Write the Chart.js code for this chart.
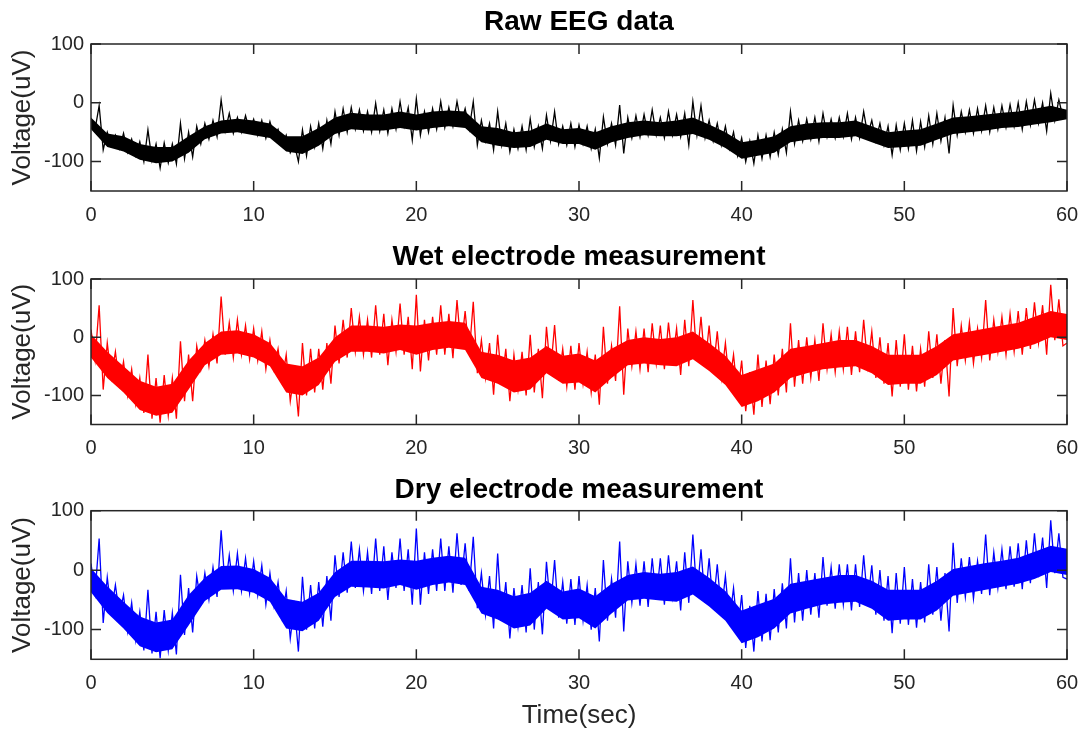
<!DOCTYPE html>
<html>
<head>
<meta charset="utf-8">
<title>EEG measurements</title>
<script src="https://cdn.jsdelivr.net/npm/chart.js@4/dist/chart.umd.min.js"></script>
<style>
  body { margin: 0; background: #fff; overflow: hidden; }
  #wrap { position: relative; width: 1083px; height: 731px; font-family: "Liberation Sans", Arial, sans-serif; }
  canvas { position: absolute; left: 0; }
  .ttl { position: absolute; left: 91px; width: 976px; text-align: center; font-weight: bold;
         font-size: 28px; line-height: 34px; color: #000; }
</style>
</head>
<body>
<div id="wrap">
  <canvas id="rawChart" width="1083" height="232" style="top:0px"></canvas>
  <canvas id="wetChart" width="1083" height="232" style="top:235px"></canvas>
  <canvas id="dryChart" width="1083" height="264" style="top:467px"></canvas>
  <div class="ttl" style="top:4px">Raw EEG data</div>
  <div class="ttl" style="top:239px">Wet electrode measurement</div>
  <div class="ttl" style="top:472px">Dry electrode measurement</div>
</div>
<script>
// ---- Data (uV) ----
// traces: one value every 0.25 s (peaks / troughs of the noisy trace)
const sampleStep = 0.25;
// dense body of each trace: upper / lower edge, one value per second
const coreStep = 1;
const xTicks = [0, 10, 20, 30, 40, 50, 60];
const yTicks = [-100, 0, 100];

const rawEEG = [
  -27, -45, -5, -80, -50, -72, -55, -78, -52, -84, -62, -90, -66, -100, -46, -98, -70, -111, -68, -102,
  -70, -104, -35, -95, -50, -92, -40, -70, -35, -62, -30, -58, 5, -48, -18, -52, -25, -50, -22, -48,
  -28, -55, -30, -60, -32, -58, -45, -72, -55, -85, -70, -100, -46, -90, -40, -75, -35, -78, -30, -70,
  -15, -55, -10, -50, -8, -45, -12, -48, -15, -50, -1, -48, -12, -52, -10, -45, 2, -40, -8, -63,
  7, -55, -15, -50, -10, -45, 2, -42, -8, -40, 2, -35, -10, -45, 2, -72, -30, -65, -35, -80,
  -15, -72, -35, -83, -45, -78, -40, -80, -27, -75, -40, -78, -21, -65, -15, -70, -40, -72, -35, -75,
  -38, -70, -40, -78, -45, -94, -24, -70, -35, -72, -4, -86, -25, -60, -22, -58, -20, -55, -12, -55,
  -25, -60, -15, -55, -20, -58, -18, -72, 2, -55, -5, -60, -30, -65, -35, -72, -40, -78, -50, -90,
  -60, -100, -65, -103, -55, -95, -55, -92, -50, -88, -45, -85, -15, -70, -30, -65, -28, -62, -25, -66,
  -18, -58, -28, -60, -25, -58, -18, -62, -25, -60, -15, -55, -30, -65, -35, -72, -40, -89, -38, -80,
  -35, -78, -30, -82, -32, -75, -22, -70, -18, -65, -25, -86, -4, -55, -15, -50, -12, -52, -10, -48,
  -5, -50, -8, -45, -5, -42, -3, -40, 0, -45, 2, -38, 5, -35, 0, -48, 16, -30, 5, -25,
  -20
];
const rawCoreHi = [
  -25, -52, -57, -70, -75, -75, -57, -40, -30, -27, -30, -35, -57, -57, -43, -25, -17, -20, -20, -15,
  -20, -15, -13, -15, -40, -43, -50, -47, -35, -45, -43, -50, -40, -33, -30, -33, -30, -25, -37, -50,
  -67, -63, -57, -40, -35, -33, -33, -30, -40, -50, -47, -45, -35, -25, -23, -20, -17, -15, -10, -5,
  -12
];
const rawCoreLo = [
  -45, -75, -83, -97, -103, -100, -85, -62, -52, -50, -55, -60, -83, -87, -73, -53, -45, -47, -47, -43,
  -47, -43, -40, -43, -67, -73, -77, -75, -63, -70, -70, -80, -67, -60, -55, -57, -57, -53, -63, -77,
  -95, -90, -85, -67, -63, -60, -60, -57, -67, -77, -75, -73, -63, -53, -50, -47, -43, -41, -37, -33,
  -28
];

const wetEEG = [
  13, -39, 55, -90, -10, -70, -25, -82, -42, -100, -55, -115, -70, -130, -30, -140, -70, -147, -65, -135,
  -70, -140, -7, -110, -30, -110, -15, -55, -5, -50, 5, -45, 70, -30, 25, -35, 30, -30, 20, -38,
  15, -40, 10, -55, -5, -55, -20, -75, -30, -110, -60, -136, -10, -100, -20, -95, -20, -90, -10, -80,
  20, -45, 30, -35, 50, -25, 35, -30, 30, -35, 55, -30, 40, -48, 30, -25, 58, -30, 35, -55,
  73, -59, 30, -40, 35, -30, 55, -30, 40, -36, 64, -20, 45, -30, 61, -62, -5, -70, -10, -99,
  4, -80, -20, -110, -30, -90, -25, -100, 4, -95, -20, -105, 18, -60, 21, -75, -20, -85, -15, -90,
  -10, -80, -25, -95, -30, -116, 18, -80, -15, -75, 53, -99, 15, -50, 10, -55, 15, -60, 24, -45,
  20, -55, 25, -40, 15, -65, 30, -50, 64, -40, 35, -50, 20, -60, 10, -70, -10, -80, -30, -100,
  -40, -127, -60, -133, -30, -120, -40, -115, -30, -100, -20, -95, 24, -85, -5, -80, 0, -70, -5, -75,
  24, -55, 5, -60, 10, -55, 18, -65, 10, -60, 30, -50, 10, -70, 0, -80, -10, -102, -5, -85,
  5, -90, -15, -93, -20, -85, 10, -70, 5, -80, -5, -102, 50, -50, 20, -40, 25, -45, 15, -35,
  64, -40, 30, -25, 35, -30, 40, -25, 45, -30, 50, -20, 60, -10, 55, -30, 90, -5, 65, -15,
  -10
];
const wetCoreHi = [
  5, -25, -50, -75, -85, -80, -40, -10, 10, 12, 5, -10, -45, -50, -35, 0, 20, 20, 18, 22,
  20, 25, 28, 25, -25, -30, -40, -35, -15, -32, -28, -40, -20, -5, 0, -3, 0, 10, -10, -32,
  -65, -55, -45, -20, -15, -10, -5, -5, -15, -30, -30, -30, -15, 5, 10, 15, 20, 25, 35, 45,
  40
];
const wetCoreLo = [
  -35, -70, -95, -125, -135, -130, -90, -48, -30, -28, -35, -50, -95, -100, -82, -42, -25, -25, -28, -22,
  -30, -22, -18, -22, -70, -80, -95, -90, -62, -80, -78, -95, -70, -48, -45, -48, -50, -38, -58, -82,
  -120, -110, -95, -70, -62, -55, -52, -50, -62, -82, -80, -80, -65, -40, -35, -30, -25, -20, -12, 0,
  -5
];

const dryEEG = [
  11, -39, 53, -89, -12, -70, -25, -75, -42, -103, -55, -118, -70, -135, -33, -140, -70, -148, -67, -135,
  -72, -142, -8, -109, -30, -105, -10, -55, -5, -50, 5, -45, 67, -30, 25, -35, 28, -35, 20, -39,
  15, -42, 8, -58, -5, -60, -20, -80, -35, -115, -60, -137, -11, -100, -25, -98, -20, -95, -10, -85,
  25, -45, 30, -38, 48, -30, 35, -35, 30, -40, 53, -35, 40, -50, 30, -30, 53, -35, 35, -58,
  70, -58, 30, -40, 35, -35, 53, -35, 40, -38, 62, -25, 45, -35, 56, -64, -5, -75, -10, -98,
  28, -85, -20, -115, -30, -95, -25, -105, 3, -100, -20, -108, 14, -65, 17, -80, -20, -90, -15, -92,
  -10, -85, -25, -100, -30, -120, 17, -85, -15, -80, 48, -103, 15, -55, 10, -60, 15, -62, 20, -50,
  20, -58, 25, -45, 15, -68, 30, -55, 60, -45, 35, -55, 20, -62, 10, -72, -10, -85, -30, -105,
  -42, -131, -60, -137, -35, -120, -40, -118, -32, -105, -22, -98, 20, -88, -5, -85, 0, -75, -5, -80,
  22, -60, 5, -65, 10, -58, 10, -68, 10, -62, 25, -55, 8, -75, 0, -85, -10, -106, -5, -90,
  5, -92, -15, -97, -20, -88, 10, -75, 5, -85, -5, -103, 46, -55, 20, -45, 22, -48, 15, -40,
  60, -42, 30, -30, 35, -32, 40, -28, 45, -32, 50, -22, 62, -12, 55, -30, 84, -5, 62, -12,
  -15
];
const dryCoreHi = [
  3, -27, -53, -78, -88, -83, -42, -13, 7, 8, 2, -13, -48, -53, -38, -3, 16, 16, 15, 18,
  16, 21, 24, 21, -28, -33, -44, -38, -18, -36, -31, -44, -23, -8, -3, -6, -3, 6, -13, -35,
  -68, -58, -48, -23, -18, -13, -8, -8, -18, -33, -33, -33, -18, 2, 7, 12, 16, 21, 31, 41,
  36
];
const dryCoreLo = [
  -37, -72, -98, -128, -138, -133, -93, -52, -33, -32, -38, -53, -98, -103, -85, -45, -28, -29, -31, -25,
  -33, -25, -21, -25, -73, -83, -98, -93, -65, -83, -81, -98, -73, -51, -48, -51, -53, -41, -61, -85,
  -123, -113, -98, -73, -65, -58, -55, -53, -65, -85, -83, -83, -68, -43, -38, -33, -28, -23, -15, -3,
  -8
];

// ---- Style ----
const axisColor = "#262626";
const fontFamily = "'Liberation Sans', Arial, sans-serif";

// MATLAB-like box with inward ticks on all four sides
const frameTicks = {
  id: "frameTicks",
  afterDatasetsDraw(chart) {
    const { ctx, chartArea: a, scales: { x, y } } = chart;
    ctx.save();
    ctx.strokeStyle = axisColor;
    ctx.lineWidth = 1.5;
    ctx.beginPath();
    xTicks.forEach(v => {
      const px = x.getPixelForValue(v);
      ctx.moveTo(px, a.bottom); ctx.lineTo(px, a.bottom - 10);
      ctx.moveTo(px, a.top); ctx.lineTo(px, a.top + 10);
    });
    yTicks.forEach(v => {
      const py = y.getPixelForValue(v);
      ctx.moveTo(a.left, py); ctx.lineTo(a.left + 10, py);
      ctx.moveTo(a.right, py); ctx.lineTo(a.right - 10, py);
    });
    ctx.stroke();
    ctx.strokeRect(a.left, a.top, a.right - a.left, a.bottom - a.top);
    ctx.restore();
  }
};

const toPoints = (arr, step) => arr.map((v, i) => ({ x: i * step, y: v }));

function makePanel(id, values, coreHi, coreLo, color, padTop, xHeight, showXTitle) {
  return new Chart(document.getElementById(id), {
    type: "line",
    data: {
      datasets: [
        { data: toPoints(values, sampleStep), borderColor: color, borderWidth: 1.3, pointRadius: 0, tension: 0, fill: false },
        { data: toPoints(coreHi, coreStep), borderWidth: 0, backgroundColor: color, pointRadius: 0, tension: 0, fill: "+1" },
        { data: toPoints(coreLo, coreStep), borderWidth: 0, pointRadius: 0, tension: 0, fill: false }
      ]
    },
    options: {
      responsive: false,
      animation: false,
      events: [],
      layout: { padding: { top: padTop, right: 16, bottom: 0, left: 0 } },
      plugins: { legend: { display: false }, tooltip: { enabled: false } },
      scales: {
        x: {
          type: "linear",
          min: 0,
          max: 60,
          grid: { display: false, drawTicks: false },
          border: { display: false },
          ticks: { stepSize: 10, padding: 12, maxRotation: 0, color: axisColor, font: { family: fontFamily, size: 20 } },
          title: { display: showXTitle, text: "Time(sec)", color: axisColor, padding: 0, font: { family: fontFamily, size: 26 } },
          afterFit: s => { s.height = xHeight; s.paddingLeft = 0; s.paddingRight = 0; }
        },
        y: {
          min: -150,
          max: 100,
          grid: { display: false, drawTicks: false },
          border: { display: false },
          afterBuildTicks: s => { s.ticks = yTicks.map(v => ({ value: v })); },
          ticks: { padding: 7, color: axisColor, font: { family: fontFamily, size: 20 } },
          title: { display: true, text: "Voltage(uV)", color: axisColor, padding: { top: 7, bottom: 0 }, font: { family: fontFamily, size: 26 } },
          afterFit: s => { s.width = 91; s.paddingTop = 0; s.paddingBottom = 0; }
        }
      }
    },
    plugins: [frameTicks]
  });
}

makePanel("rawChart", rawEEG, rawCoreHi, rawCoreLo, "#000000", 44, 41, false);
makePanel("wetChart", wetEEG, wetCoreHi, wetCoreLo, "#ff0000", 44, 42.5, false);
makePanel("dryChart", dryEEG, dryCoreHi, dryCoreLo, "#0000ff", 43.7, 71.7, true);
</script>
</body>
</html>
